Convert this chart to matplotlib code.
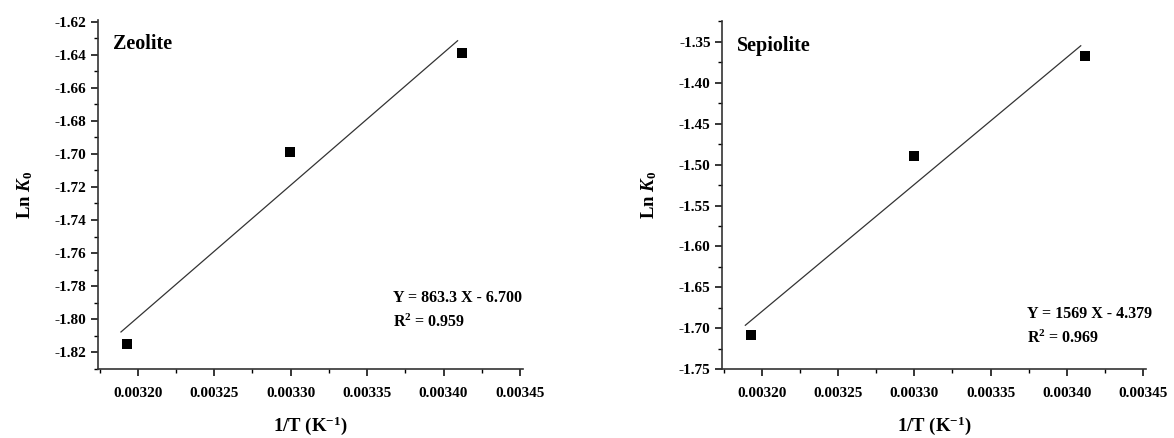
import numpy as np
import matplotlib
matplotlib.use("Agg")
import matplotlib.pyplot as plt
from matplotlib.ticker import MultipleLocator, FormatStrFormatter

plt.rcParams["font.family"] = "Liberation Serif"
plt.rcParams["font.weight"] = "bold"
plt.rcParams["axes.labelweight"] = "bold"
plt.rcParams["axes.unicode_minus"] = False
plt.rcParams["mathtext.fontset"] = "custom"
plt.rcParams["mathtext.rm"] = "Liberation Serif:bold"
plt.rcParams["mathtext.bf"] = "Liberation Serif:bold"
plt.rcParams["mathtext.it"] = "Liberation Serif:italic:bold"

# 1/T (K^-1) and Ln K0 for each adsorbent
inv_T = [0.003193, 0.0032995, 0.0034122]
lnk_zeolite = [-1.815, -1.699, -1.639]
lnk_sepiolite = [-1.708, -1.490, -1.367]

eq_zeolite = ["Y = 863.3 X - 6.700", "R$^2$ = 0.959"]
eq_sepiolite = ["Y = 1569 X - 4.379", "R$^2$ = 0.969"]


def arrhenius_panel(ax, x, y, name, eq_lines, ylim, ymajor, eq_pos):
    x = np.array(x)
    y = np.array(y)
    # least-squares line through the three points
    slope, icpt = np.polyfit(x, y, 1)
    xx = np.array([x.min() - 0.000004, x.max() - 0.000003])
    ax.plot(xx, slope * xx + icpt, color="#333333", lw=0.9)
    ax.plot(x, y, "s", color="black", ms=7, mew=0)

    ax.set_xlim(0.003174, 0.003452)
    ax.set_ylim(*ylim)
    ax.xaxis.set_major_locator(MultipleLocator(0.00005))
    ax.xaxis.set_minor_locator(MultipleLocator(0.000025))
    ax.yaxis.set_major_locator(MultipleLocator(ymajor))
    ax.yaxis.set_minor_locator(MultipleLocator(ymajor / 2))
    ax.xaxis.set_major_formatter(FormatStrFormatter("%.5f"))
    ax.yaxis.set_major_formatter(FormatStrFormatter("%.2f"))
    ax.tick_params(which="major", direction="out", length=5, width=1.1, labelsize=11)
    ax.tick_params(which="minor", direction="out", length=3, width=1.0)
    ax.tick_params(axis="x", pad=8)
    for side in ["top", "right"]:
        ax.spines[side].set_visible(False)
    for side in ["left", "bottom"]:
        ax.spines[side].set_linewidth(1.2)
        ax.spines[side].set_color("#333333")

    ax.set_xlabel("1/T (K$^{-1}$)", fontsize=13.5, labelpad=10)
    ax.set_ylabel("Ln $\\mathit{K_0}$", fontsize=13.5, labelpad=14)
    ax.text(0.035, 0.93, name, transform=ax.transAxes, fontsize=14.5,
            fontweight="bold", va="center")
    ax.text(eq_pos[0], eq_pos[1], eq_lines[0], transform=ax.transAxes,
            fontsize=11.5, va="center")
    ax.text(eq_pos[0], eq_pos[1] - 0.07, eq_lines[1], transform=ax.transAxes,
            fontsize=11.5, va="center")


fig = plt.figure(figsize=(11.74, 4.38), dpi=100)
ax1 = fig.add_axes([0.0835, 0.157, 0.362, 0.798])
ax2 = fig.add_axes([0.6154, 0.157, 0.3607, 0.794])

arrhenius_panel(ax1, inv_T, lnk_zeolite, "Zeolite", eq_zeolite,
                (-1.8303, -1.6188), 0.02, (0.695, 0.205))
arrhenius_panel(ax2, inv_T, lnk_sepiolite, "Sepiolite", eq_sepiolite,
                (-1.75, -1.325), 0.05, (0.72, 0.16))

fig.savefig("out.png", dpi=100)
